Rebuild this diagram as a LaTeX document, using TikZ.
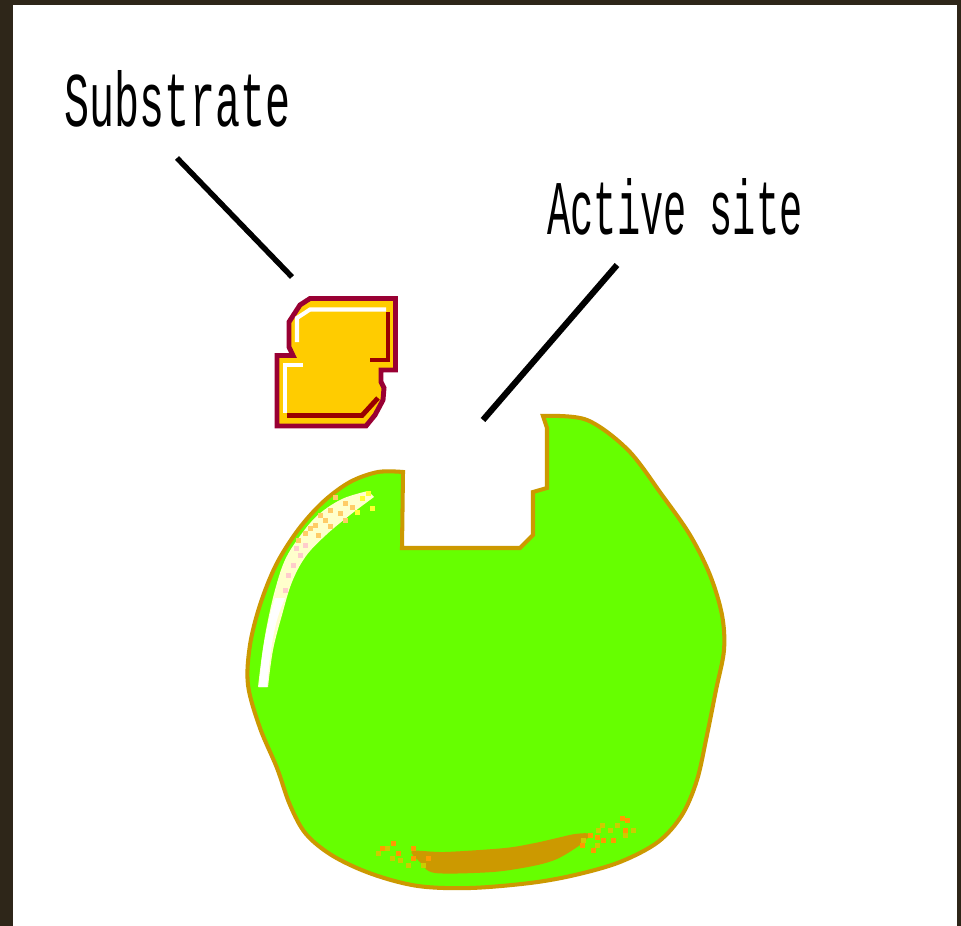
\documentclass[tikz,border=0pt]{standalone}
\usepackage{xcolor}
\usepackage{fontspec}
\usepackage{graphicx}
\newfontfamily\labelfont{Liberation Mono}

\definecolor{framebrown}{HTML}{2E2619}
\definecolor{enzgreen}{HTML}{66FF00}
\definecolor{enzedge}{HTML}{CC9900}
\definecolor{subfill}{HTML}{FFCC00}
\definecolor{subedge}{HTML}{990033}
\definecolor{subshade}{HTML}{990000}
\definecolor{glint}{HTML}{FFFFCC}
\definecolor{glintpeach}{HTML}{FFCC66}
\definecolor{glintpink}{HTML}{FFCCCC}
\definecolor{glintyellow}{HTML}{FFFF33}
\definecolor{speckorange}{HTML}{FF9900}
\definecolor{speckolive}{HTML}{CCCC00}

\tikzset{
    enzyme/.style={fill=enzgreen,draw=enzedge,line width=2.3pt,line join=miter},
    substrate/.style={fill=subfill,draw=subedge,line width=2.8pt,line join=miter},
    leader/.style={black,line width=3.1pt},
    lbl/.style={anchor=base,inner sep=0pt,font=\labelfont\fontsize{44}{44}\selectfont}
}

\begin{document}
\begin{tikzpicture}[x=0.02cm,y=-0.02cm]

    \useasboundingbox (0,0) rectangle (961,926);

    % Frame and white panel.
    \fill[framebrown] (0,0) rectangle (961,926);
    \fill[white] (13,5) rectangle (957,926);

    % Enzyme body with the notch cut into its top.
    \draw[enzyme] (403,472) -- (402,548) -- (520,548) -- (533,535) -- (533,492)
        -- (547,488) -- (547,428) -- (543,416)
        -- plot[smooth,tension=0.55] coordinates {(545,416) (587,420) (628,450)
            (662,495) (690,535) (710,575) (722,615) (724,650) (716,690)
            (707,735) (697,780) (682,815) (658,842) (620,862) (575,875)
            (530,883) (470,888) (418,886) (372,874) (333,856) (306,834)
            (290,805) (277,768) (260,728) (248,685) (250,645) (260,605)
            (276,565) (298,530) (323,502) (350,482) (378,472) (403,472)}
        -- cycle;

    % Shine along the left side.
    \fill[glint] plot[smooth,tension=0.6] coordinates {(368,491) (342,499)
        (318,515) (300,536) (285,560) (275,590) (267,625) (262,655) (258,687)}
        -- plot[smooth,tension=0.6] coordinates {(268,687) (273,650) (282,615)
        (292,582) (306,556) (326,535) (350,515) (374,497)} -- cycle;
    \fill[white] plot[smooth,tension=0.6] coordinates {(259,687) (263,650)
        (270,615) (275,598)} -- plot[smooth,tension=0.6] coordinates {(285,598)
        (277,620) (271,650) (267,687)} -- cycle;
    \foreach \sx/\sy in {335/497,345/503,352/507,330/510,320/515,340/513,315/525,
        305/533,325/520,298/540,310/528,345/520,330/526,318/535}
        \fill[glintpeach] (\sx,\sy) +(-2.5,-2.5) rectangle +(2.5,2.5);
    \foreach \sx/\sy in {300/555,293/565,288/575,285/590,305/545,296/548}
        \fill[glintpink] (\sx,\sy) +(-2.5,-2.5) rectangle +(2.5,2.5);
    \foreach \sx/\sy in {362/498,372/508,357/512,368/493}
        \fill[glintyellow] (\sx,\sy) +(-2.5,-2.5) rectangle +(2.5,2.5);

    % Shadow under the body.
    \fill[enzedge] plot[smooth cycle,tension=0.5] coordinates {(412,851) (445,852)
        (505,848) (535,843) (557,838) (575,834) (590,834) (580,845) (557,859)
        (533,866) (493,872) (435,873) (420,862)};
    \foreach \sx/\sy in {382/848,393/843,413/848,413/858,398/853,428/858,
        622/818,627/820,590/835,597/837,603/840,613/840,625/830,582/845,593/850}
        \fill[speckorange] (\sx,\sy) +(-2.5,-2.5) rectangle +(2.5,2.5);
    \foreach \sx/\sy in {378/853,387/848,392/858,400/860,408/865,423/865,
        583/840,598/830,633/830,625/835,610/830,597/845,617/825,602/825}
        \fill[speckolive] (\sx,\sy) +(-2.5,-2.5) rectangle +(2.5,2.5);

    % Substrate block.
    \draw[substrate] (310,298.5) -- (395.5,298.5) -- (395.5,370) -- (381,370)
        -- (381,382) -- (384,388) -- (383,400) -- (375,415) -- (366,426)
        -- (277,426) -- (277,355.5) -- (293,355.5) -- (289,347) -- (289,322)
        -- (300,305) -- cycle;
    \draw[subshade,line width=2.8pt] (287,415.5) -- (362,415.5) -- (378,398);
    \draw[subshade,line width=2.8pt] (388,312) -- (388,360) -- (370,360);
    \draw[white,line width=2.3pt] (386,309.5) -- (310,309.5) -- (297,318) -- (297,342);
    \draw[white,line width=2.3pt] (303,365) -- (285,365) -- (285,413);

    % Labels and pointers.
    \node[lbl] (substrate label) at (177.5,127) {\scalebox{0.54}[1]{Substrate}};
    \node[lbl] (site label) at (675,235) {\scalebox{0.50}[1]{Active site}};

    \coordinate (substrate tail) at (177,158);
    \coordinate (substrate tip) at (292,277);
    \coordinate (site tail) at (617,265);
    \coordinate (site tip) at (483,420);

    \draw[leader] (substrate tail) -- (substrate tip);
    \draw[leader,line width=3.5pt] (site tail) -- (site tip);

\end{tikzpicture}
\end{document}
